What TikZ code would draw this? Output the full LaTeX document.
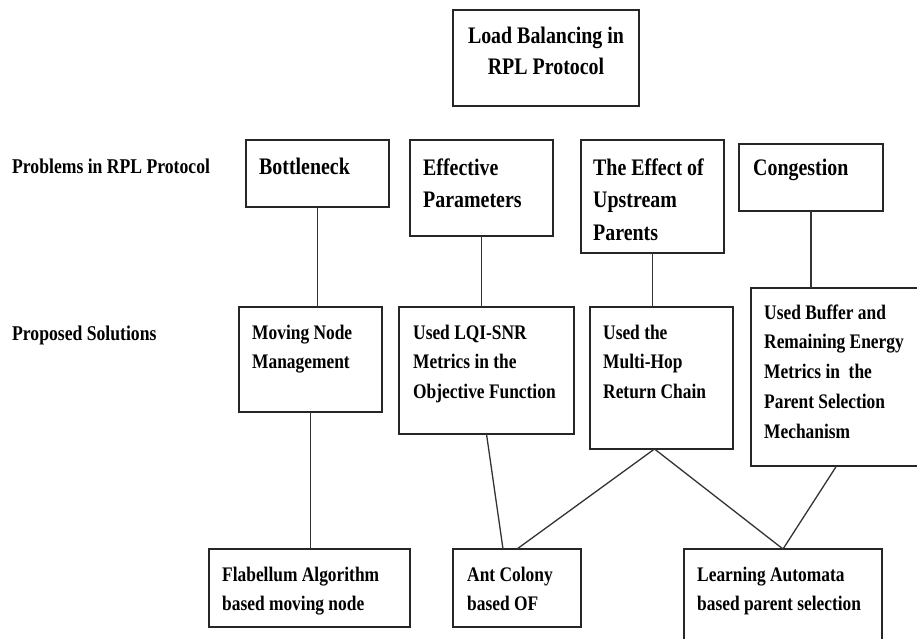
\documentclass[tikz,border=0pt]{standalone}
\usepackage{fontspec}
\setmainfont{Liberation Serif}[FakeStretch=0.84]

\tikzset{
  box/.style={draw=black!85, line width=1.6pt, inner sep=0pt, outer sep=0pt, anchor=north west},
  link/.style={draw=black!80, line width=1.3pt},
  tight/.style={execute at begin node={\spaceskip=.21em plus .1em minus .05em\relax}},
  headtxt/.style={tight, inner sep=0pt, anchor=base west, text width=135pt,
    font=\fontsize{23.7}{32.5}\selectfont\bfseries},
  subtxt/.style={tight, inner sep=0pt, anchor=base west, text width=170pt,
    font=\fontsize{20.7}{29.5}\selectfont\bfseries},
  sidetxt/.style={inner sep=0pt, anchor=base west, font=\fontsize{21}{25}\selectfont\bfseries}
}

\begin{document}
\begin{tikzpicture}[x=1pt,y=-1pt]
\useasboundingbox (0,0) rectangle (917,638);
\clip (0,0) rectangle (917,638);

%Shape: Rectangle [top]
\node[box, minimum width=186pt, minimum height=96pt] (load) at (453,10) {};
%Shape: Rectangle [problems]
\node[box, minimum width=143pt, minimum height=67pt] (neck) at (246,140) {};
\node[box, minimum width=143pt, minimum height=96pt] (eff) at (410,140) {};
\node[box, minimum width=143pt, minimum height=113pt] (up) at (581,140) {};
\node[box, minimum width=144pt, minimum height=67pt] (cong) at (739,144) {};
%Shape: Rectangle [solutions]
\node[box, minimum width=143pt, minimum height=105pt] (moving) at (239,307) {};
\node[box, minimum width=175pt, minimum height=127pt] (lqi) at (399,307) {};
\node[box, minimum width=143pt, minimum height=142pt] (hop) at (590,307) {};
\node[box, minimum width=171pt, minimum height=178pt] (buf) at (751,288) {};
%Shape: Rectangle [methods]
\node[box, minimum width=201pt, minimum height=78pt] (flab) at (209,549) {};
\node[box, minimum width=128pt, minimum height=78pt] (ant) at (453,549) {};
\node[box, minimum width=198pt, minimum height=100pt] (learn) at (684,549) {};

%Straight Lines
\draw[link] (neck.south) -- (neck.south |- moving.north);
\draw[link] (eff.south) -- (eff.south |- lqi.north);
\draw[link] (up.south) -- (up.south |- hop.north);
\draw[link] (cong.south) -- (cong.south |- buf.north);
\draw[link] (moving.south) -- (moving.south |- flab.north);
\draw[link] (lqi.south) -- ([xshift=-14pt]ant.north);
\draw[link] ([xshift=-7pt]hop.south) -- (ant.north);
\draw[link] ([xshift=-7pt]hop.south) -- (learn.north);
\draw[link] (buf.south) -- (learn.north);

% Text Node
\node[tight, inner sep=0pt, anchor=base, text width=180pt,
  font=\fontsize{23.7}{31}\selectfont\bfseries] (loadt) at (546,43)
  {\centering Load Balancing in\\RPL Protocol\par};
% Text Node
\node[sidetxt] (probt) at (12,173) {Problems in RPL Protocol};
% Text Node
\node[sidetxt] (solt) at (12,340) {Proposed Solutions};
% Text Node
\node[headtxt] (neckt) at (259,174) {Bottleneck};
% Text Node
\node[headtxt] (efft) at (423,175) {Effective\\Parameters};
% Text Node
\node[headtxt] (upt) at (593,175) {The Effect of\\Upstream\\Parents};
% Text Node
\node[headtxt] (congt) at (753,175) {Congestion};
% Text Node
\node[subtxt] (movingt) at (252,339) {Moving Node\\Management};
% Text Node
\node[subtxt] (lqit) at (413,339) {Used LQI-SNR\\Metrics in the\\Objective Function};
% Text Node
\node[subtxt] (hopt) at (603,339) {Used the\\Multi-Hop\\Return Chain};
% Text Node
\node[subtxt, font=\fontsize{20.7}{29.8}\selectfont\bfseries] (buft) at (764,319)
  {Used Buffer and\\Remaining Energy\\Metrics in\ \ the\\Parent Selection\\Mechanism};
% Text Node
\node[subtxt] (flabt) at (222,581) {Flabellum Algorithm\\based moving node};
% Text Node
\node[subtxt] (antt) at (467,581) {Ant Colony\\based OF};
% Text Node
\node[subtxt] (learnt) at (697,581) {Learning Automata\\based parent selection};

\end{tikzpicture}
\end{document}
